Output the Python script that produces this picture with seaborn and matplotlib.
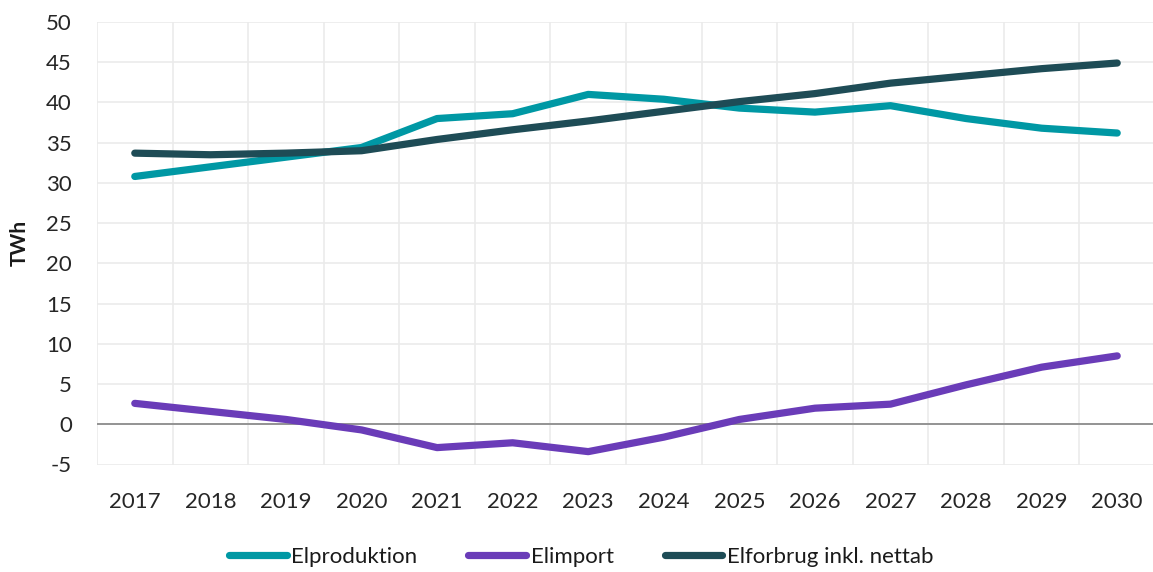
import matplotlib
matplotlib.use("Agg")
import matplotlib.pyplot as plt
from matplotlib.ticker import FixedLocator
import numpy as np
import pandas as pd
import seaborn as sns

years = [2017, 2018, 2019, 2020, 2021, 2022, 2023, 2024, 2025, 2026, 2027, 2028, 2029, 2030]
elproduktion = [30.8, 32.0, 33.2, 34.4, 38.0, 38.6, 41.0, 40.4, 39.3, 38.8, 39.6, 38.0, 36.8, 36.2]
elimport = [2.6, 1.6, 0.6, -0.7, -2.9, -2.3, -3.4, -1.6, 0.6, 2.0, 2.5, 4.9, 7.1, 8.5]
elforbrug = [33.7, 33.5, 33.7, 34.0, 35.4, 36.6, 37.7, 38.9, 40.1, 41.1, 42.4, 43.3, 44.2, 44.9]
series_names = ["Elproduktion", "Elimport", "Elforbrug inkl. nettab"]
colors = ["#0098A4", "#6A3CB8", "#1E4C56"]
y_ticks = [-5, 0, 5, 10, 15, 20, 25, 30, 35, 40, 45, 50]

sns.set_theme(style="white")
plt.rcParams["font.family"] = ["Lato", "DejaVu Sans"]

pos = np.arange(len(years))
df = pd.DataFrame({
    "pos": np.tile(pos, 3),
    "value": elproduktion + elimport + elforbrug,
    "serie": np.repeat(series_names, len(years)),
})

fig = plt.figure(figsize=(11.53, 5.72), dpi=100)
W, H = 1153, 572
ax = fig.add_axes([97 / W, 1 - 464.5 / H, (1155 - 97) / W, (464.5 - 22) / H])

sns.lineplot(data=df, x="pos", y="value", hue="serie", hue_order=series_names,
             palette=colors, linewidth=5.2, ax=ax, legend=False,
             solid_capstyle="round", solid_joinstyle="round", zorder=3)

ax.set_xlim(-0.5, len(years) - 0.5)
ax.set_ylim(-5, 50)
ax.set_yticks(y_ticks)
ax.set_yticklabels([str(t) for t in y_ticks])
ax.set_xticks(pos)
ax.set_xticklabels([str(y) for y in years])
ax.xaxis.set_minor_locator(FixedLocator(np.arange(-0.5, len(years), 1.0)))

ax.grid(False)
ax.grid(axis="y", which="major", color="#EBEBEB", linewidth=1.2, zorder=0)
ax.grid(axis="x", which="minor", color="#EBEBEB", linewidth=1.2, zorder=0)
ax.axhline(0, color="#8C8C8C", linewidth=1.3, zorder=2)

for s in ax.spines.values():
    s.set_visible(False)
ax.tick_params(axis="both", which="both", length=0)
ax.tick_params(axis="y", labelsize=16, colors="#262626", pad=18)
ax.tick_params(axis="x", labelsize=16, colors="#262626", pad=20)

ax.set_xlabel("")
ax.set_ylabel("TWh", fontsize=15, fontweight="bold", color="#1a1a1a", labelpad=12)

handles = [plt.Line2D([0], [0], color=c, linewidth=5.2, solid_capstyle="round") for c in colors]
fig.legend(handles, series_names, loc="center", bbox_to_anchor=(0.504, 0.026), ncol=3,
           frameon=False, fontsize=16, handlelength=2.6, handletextpad=0.2,
           columnspacing=2.3, labelcolor="#1a1a1a")

fig.savefig("out.png", dpi=100)
